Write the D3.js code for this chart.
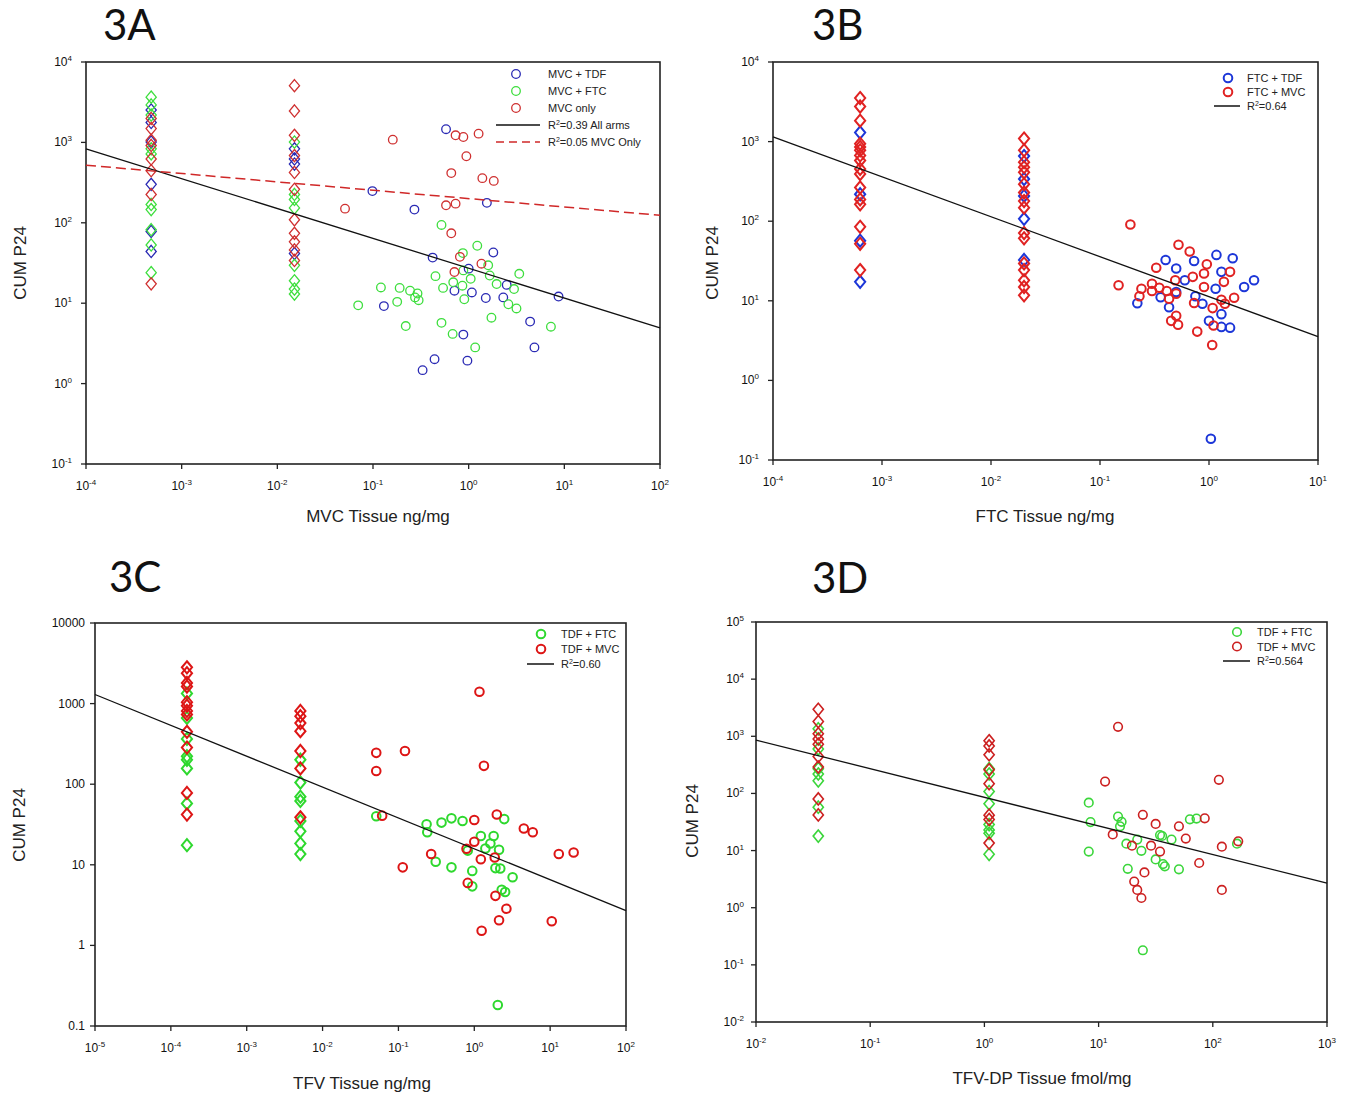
<!DOCTYPE html>
<html>
<head>
<meta charset="utf-8">
<script src="https://cdn.jsdelivr.net/npm/d3@7"></script>
<style>
  body { margin: 0; background: #fff; }
  svg { display: block; font-family: "Liberation Sans", Arial, sans-serif; }
</style>
</head>
<body>
<svg id="chart" width="1353" height="1098"></svg>
<script>
// ---- data: [tissue conc, CUM P24] ----
// 3A
const mvcTdfA = [
  [4.8e-4,2530],[4.8e-4,1770],[4.8e-4,1010],[4.8e-4,301],[4.8e-4,78],[4.8e-4,44],
  [0.0151,832],[0.0151,622],[0.0151,538],[0.0151,41.5],
  [0.58,1460],[0.0986,248],[0.271,146],[1.55,177],[0.42,36.9],[1.81,42.7],[1.0,26.9],
  [2.5,16.9],[0.71,14.3],[1.08,13.6],[1.51,11.6],[2.3,11.8],[8.7,12.1],[0.13,9.2],
  [4.39,5.9],[0.88,4.07],[4.87,2.82],[0.44,2.01],[0.97,1.93],[0.33,1.47]
];
const mvcFtcA = [
  [4.8e-4,3656],[4.8e-4,2925],[4.8e-4,2188],[4.8e-4,832],[4.8e-4,719],[4.8e-4,169],
  [4.8e-4,146],[4.8e-4,82],[4.8e-4,53],[4.8e-4,24],
  [0.0151,1010],[0.0151,225],[0.0151,195],[0.0151,153],[0.0151,29.6],[0.0151,19],
  [0.0151,15],[0.0151,13],
  [0.52,94],[1.23,51.8],[0.87,42],[1.6,29.6],[0.88,25.6],[0.45,21.7],[1.05,20.1],
  [3.38,23.2],[1.66,22.1],[1.96,17.3],[0.69,18.2],[0.86,16.5],[0.54,15.5],[0.121,15.7],
  [0.19,15.5],[0.244,14.3],[0.292,13.2],[0.275,11.8],[0.30,10.9],[0.179,10.4],[0.9,11.2],
  [2.98,15],[2.6,9.7],[3.16,8.6],[0.07,9.4],[0.52,5.7],[0.22,5.2],[1.73,6.6],[7.24,5.1],
  [0.68,4.15],[1.17,2.82]
];
const mvcOnlyA = [
  [4.8e-4,1985],[4.8e-4,1487],[4.8e-4,1060],[4.8e-4,916],[4.8e-4,622],[4.8e-4,444],
  [4.8e-4,225],[4.8e-4,17.4],
  [0.0151,5080],[0.0151,2460],[0.0151,1225],[0.0151,686],[0.0151,423],[0.0151,261],
  [0.0151,109],[0.0151,74],[0.0151,58],[0.0151,46],[0.0151,34],
  [0.161,1082],[0.73,1225],[0.88,1167],[1.27,1285],[0.946,673],[0.658,415],[1.39,359],
  [1.83,332],[0.58,165],[0.73,173],[0.051,150],[0.658,74],[0.81,37.7],[1.36,31],[0.71,24.4]
];
// 3B
const ftcTdfB = [
  [6.3e-4,1300],[6.3e-4,218],[6.3e-4,57],[6.3e-4,17.3],
  [0.0201,658],[0.0201,339],[0.0201,208],[0.0201,107],[0.0201,32.6],
  [0.40,32.6],[0.73,31.6],[1.17,37.7],[1.65,34.2],[0.5,25.5],[1.3,23.1],[2.59,18.1],
  [0.6,18.1],[2.1,14.9],[1.15,14.2],[0.5,12.9],[0.75,11.4],[0.36,11.1],[0.22,9.3],
  [0.87,9.2],[0.43,8.3],[1.3,6.8],[1.0,5.6],[1.3,4.7],[1.56,4.6],[1.04,0.185]
];
const ftcMvcB = [
  [6.3e-4,3524],[6.3e-4,2760],[6.3e-4,1833],[6.3e-4,943],[6.3e-4,856],[6.3e-4,777],
  [6.3e-4,670],[6.3e-4,579],[6.3e-4,454],[6.3e-4,392],[6.3e-4,265],[6.3e-4,188],
  [6.3e-4,163],[6.3e-4,85],[6.3e-4,52],[6.3e-4,24.3],
  [0.0201,1092],[0.0201,777],[0.0201,552],[0.0201,477],[0.0201,411],[0.0201,292],
  [0.0201,229],[0.0201,179],[0.0201,148],[0.0201,71],[0.0201,61],[0.0201,29.5],
  [0.0201,24.3],[0.0201,18.1],[0.0201,14.9],[0.0201,11.7],
  [0.19,91],[0.148,15.7],[0.525,50.5],[0.665,41.6],[0.955,28.7],[0.328,26],[1.56,23.1],
  [0.9,22],[0.71,20],[0.49,18.1],[1.37,17.3],[0.30,16.4],[0.24,14.2],[0.35,14.6],
  [0.30,13.3],[0.41,13.3],[0.9,14.9],[0.5,12.3],[0.23,11.4],[0.43,10.6],[1.7,10.9],
  [1.3,10.3],[0.73,9.4],[1.4,9.2],[1.08,8.1],[0.5,6.5],[0.45,5.6],[0.52,5.0],[1.1,4.9],
  [0.78,4.1],[1.07,2.79]
];
// 3C
const tdfFtcC = [
  [1.63e-4,1336],[1.63e-4,665],[1.63e-4,365],[1.63e-4,222],[1.63e-4,201],[1.63e-4,157],
  [1.63e-4,57.8],[1.63e-4,17.5],
  [5.1e-3,201],[5.1e-3,105],[5.1e-3,70],[5.1e-3,62],[5.1e-3,35],[5.1e-3,26],[5.1e-3,18.4],
  [5.1e-3,13.6],
  [0.051,40],[0.235,31.8],[0.37,33.4],[0.50,37.7],[0.7,35],[2.48,36.9],[0.24,25.3],
  [1.22,22.8],[1.8,22.8],[1.63,18.4],[2.12,15.4],[0.82,15],[1.4,15.9],[0.31,10.9],
  [0.50,9.3],[0.94,8.4],[1.9,9.1],[2.2,9.0],[3.2,7.0],[0.94,5.4],[2.3,4.9],[2.55,4.6],
  [2.04,0.182]
];
const tdfMvcC = [
  [1.63e-4,2818],[1.63e-4,2382],[1.63e-4,1800],[1.63e-4,1630],[1.63e-4,1040],[1.63e-4,942],
  [1.63e-4,811],[1.63e-4,735],[1.63e-4,446],[1.63e-4,285],[1.63e-4,78],[1.63e-4,42],
  [5.1e-3,811],[5.1e-3,698],[5.1e-3,573],[5.1e-3,455],[5.1e-3,258],[5.1e-3,157],[5.1e-3,38.8],
  [1.17,1403],[0.122,258],[0.051,245],[0.051,146],[1.34,169],[0.061,40.7],[1.98,42],
  [1.0,36],[4.5,28.2],[5.9,25.3],[1.0,19.3],[0.79,15.8],[13,13.6],[20.4,14.2],[0.27,13.6],
  [1.22,11.7],[1.86,12.3],[0.114,9.3],[0.82,5.96],[1.9,4.12],[2.65,2.85],[2.12,2.05],
  [1.25,1.52],[10.5,1.99]
];
// 3D
const tdfFtcD = [
  [0.0351,1350],[0.0351,600],[0.0351,271],[0.0351,219],[0.0351,166],[0.0351,57.5],[0.0351,17.9],
  [1.1,271],[1.1,219],[1.1,108],[1.1,66],[1.1,28.5],[1.1,23],[1.1,20],[1.1,8.6],
  [8.2,69],[8.5,31.5],[14.8,39.4],[15.9,31.9],[15.4,26.6],[34.5,18.7],[36,18],[43.5,15.6],
  [21.8,15.6],[17.5,13.2],[23.7,9.9],[31.6,7.0],[36.6,5.8],[38,5.3],[8.2,9.6],[18,4.8],
  [50.5,4.7],[63,35.2],[72,36.3],[163,13.2],[24.4,0.18]
];
const tdfMvcD = [
  [0.0351,2965],[0.0351,1811],[0.0351,1107],[0.0351,896],[0.0351,726],[0.0351,444],
  [0.0351,290],[0.0351,80],[0.0351,42],
  [1.1,836],[1.1,677],[1.1,475],[1.1,259],[1.1,148],[1.1,41.7],[1.1,35],[1.1,13.5],
  [14.8,1466],[11.4,161],[113,173],[24.4,42.3],[31.6,29.3],[50.5,26.6],[85,36.7],
  [13.3,19.2],[58,16.2],[19.6,12.2],[28.8,12.2],[34.5,9.6],[120,11.7],[167,14.5],
  [76,6.06],[25.2,4.14],[20.5,2.87],[21.8,2.05],[23.7,1.48],[120,2.05]
];
// below-LOQ columns (drawn as diamonds in the original)
const stackA = [4.8e-4, 0.0151];
const stackB = [6.3e-4, 0.0201];
const stackC = [1.63e-4, 5.1e-3];
const stackD = [0.0351, 1.1];
// regression lines: log10(y) = b + m * log10(x)
const fitA = { m: -0.371, b: 1.435 };
const fitAonly = { m: -0.104, b: 2.301 };
const fitB = { m: -0.502, b: 1.052 };
const fitC = { m: -0.383, b: 1.198 };
const fitD = { m: -0.501, b: 1.932 };

const svg = d3.select("#chart");
svg.append("rect").attr("width", 1353).attr("height", 1098).attr("fill", "#fff");

function powLabel(sel, e) {
  sel.text("10");
  sel.append("tspan").attr("dy", -5).attr("font-size", 8).text(String(e));
}

function drawPanel(p) {
  const g = svg.append("g");
  const x = d3.scaleLog().domain(p.xd).range([p.l, p.r]);
  const y = d3.scaleLog().domain(p.yd).range([p.b, p.t]);

  g.append("rect").attr("x", p.l).attr("y", p.t)
    .attr("width", p.r - p.l).attr("height", p.b - p.t)
    .attr("fill", "none").attr("stroke", "#222").attr("stroke-width", 1.6);

  const xe = d3.range(Math.log10(p.xd[0]), Math.log10(p.xd[1]) + 1);
  xe.forEach(e => {
    const xx = x(Math.pow(10, e));
    g.append("line").attr("x1", xx).attr("x2", xx).attr("y1", p.b).attr("y2", p.b + 5)
      .attr("stroke", "#222").attr("stroke-width", 1.3);
    const t = g.append("text").attr("x", xx).attr("y", p.b + 26)
      .attr("text-anchor", "middle").attr("font-size", 12).attr("fill", "#111");
    powLabel(t, e);
  });
  const ye = d3.range(Math.log10(p.yd[0]), Math.log10(p.yd[1]) + 1);
  ye.forEach(e => {
    const yy = y(Math.pow(10, e));
    g.append("line").attr("x1", p.l - 5).attr("x2", p.l).attr("y1", yy).attr("y2", yy)
      .attr("stroke", "#222").attr("stroke-width", 1.3);
    const t = g.append("text").attr("x", p.l - p.yGap).attr("y", yy + 4)
      .attr("text-anchor", "end").attr("font-size", 12).attr("fill", "#111");
    if (p.plainY) t.text(d3.format("~g")(Math.pow(10, e)));
    else powLabel(t, e);
  });

  const isStack = d => p.stack.includes(d[0]);
  const diamond = (cx, cy) => {
    const w = p.rad + 0.8, h = p.rad + 1.8;
    return `M${cx},${cy - h}L${cx + w},${cy}L${cx},${cy + h}L${cx - w},${cy}Z`;
  };

  p.series.forEach(s => {
    const sg = g.append("g");
    sg.selectAll("circle").data(s.data.filter(d => !isStack(d))).join("circle")
      .attr("cx", d => x(d[0])).attr("cy", d => y(d[1]))
      .attr("r", p.rad).attr("fill", "none")
      .attr("stroke", s.color).attr("stroke-width", p.sw);
    sg.selectAll("path").data(s.data.filter(isStack)).join("path")
      .attr("d", d => diamond(x(d[0]), y(d[1])))
      .attr("fill", "none").attr("stroke", s.color).attr("stroke-width", p.sw);
  });

  p.fits.forEach(f => {
    const ends = p.xd.map(v => [v, Math.pow(10, f.b + f.m * Math.log10(v))]);
    g.append("line")
      .attr("x1", x(ends[0][0])).attr("y1", y(ends[0][1]))
      .attr("x2", x(ends[1][0])).attr("y2", y(ends[1][1]))
      .attr("stroke", f.color).attr("stroke-width", f.w || 1.3)
      .attr("stroke-dasharray", f.dash || null);
  });

  p.legend.forEach((it, i) => {
    const ly = p.leg.y + i * p.leg.dy;
    if (it.line) {
      g.append("line").attr("x1", p.leg.lx1).attr("x2", p.leg.lx2).attr("y1", ly).attr("y2", ly)
        .attr("stroke", it.color).attr("stroke-width", 1.5)
        .attr("stroke-dasharray", it.dash || null);
    } else {
      g.append("circle").attr("cx", p.leg.mx).attr("cy", ly).attr("r", p.rad)
        .attr("fill", "none").attr("stroke", it.color).attr("stroke-width", p.sw);
    }
    const t = g.append("text").attr("x", p.leg.tx).attr("y", ly + 4)
      .attr("font-size", 11).attr("fill", "#222");
    if (it.r2) {
      t.text("R");
      t.append("tspan").attr("dy", -4).attr("font-size", 7).text("2");
      t.append("tspan").attr("dy", 4).text(it.label);
    } else t.text(it.label);
  });

  svg.append("text").attr("x", p.title[0]).attr("y", p.title[1])
    .attr("font-family", "Lato, 'Open Sans', sans-serif").attr("font-size", 42)
    .attr("fill", "#111").text(p.name);
  svg.append("text").attr("x", p.xl[0]).attr("y", p.xl[1]).attr("text-anchor", "middle")
    .attr("font-size", 17).attr("fill", "#222").text(p.xlabel);
  svg.append("text").attr("transform", `translate(${p.yl[0]},${p.yl[1]}) rotate(-90)`)
    .attr("text-anchor", "middle").attr("font-size", 17).attr("fill", "#222").text("CUM P24");
}

const blue = "#2a2ab4", green = "#3ede3e";

drawPanel({
  name: "3A", title: [103, 40], xlabel: "MVC  Tissue ng/mg", xl: [378, 522], yl: [26, 263],
  l: 86, r: 660, t: 62, b: 464, xd: [1e-4, 1e2], yd: [1e-1, 1e4], yGap: 14,
  rad: 4.3, sw: 1.3, stack: stackA,
  series: [{ data: mvcTdfA, color: blue }, { data: mvcFtcA, color: green }, { data: mvcOnlyA, color: "#cf3030" }],
  fits: [{ ...fitA, color: "#111" }, { ...fitAonly, color: "#d02828", dash: "10,5", w: 1.5 }],
  legend: [
    { label: "MVC + TDF", color: blue }, { label: "MVC + FTC", color: green },
    { label: "MVC only", color: "#cf3030" },
    { line: true, r2: true, label: "=0.39 All arms", color: "#111" },
    { line: true, r2: true, label: "=0.05 MVC Only", color: "#d02828", dash: "8,5" }
  ],
  leg: { y: 74, dy: 17, mx: 516, tx: 548, lx1: 496, lx2: 540 }
});

drawPanel({
  name: "3B", title: [812, 40], xlabel: "FTC Tissue ng/mg", xl: [1045, 522], yl: [718, 263],
  l: 773, r: 1318, t: 62, b: 460, xd: [1e-4, 1e1], yd: [1e-1, 1e4], yGap: 14,
  rad: 4.3, sw: 2, stack: stackB,
  series: [{ data: ftcTdfB, color: "#1c36d8" }, { data: ftcMvcB, color: "#e02222" }],
  fits: [{ ...fitB, color: "#111" }],
  legend: [
    { label: "FTC + TDF", color: "#1c36d8" }, { label: "FTC + MVC", color: "#e02222" },
    { line: true, r2: true, label: "=0.64", color: "#111" }
  ],
  leg: { y: 78, dy: 14, mx: 1228, tx: 1247, lx1: 1214, lx2: 1240 }
});

drawPanel({
  name: "3C", title: [109, 592], xlabel: "TFV Tissue ng/mg", xl: [362, 1089], yl: [25, 825],
  l: 95, r: 626, t: 623, b: 1026, xd: [1e-5, 1e2], yd: [1e-1, 1e4], yGap: 10, plainY: true,
  rad: 4.3, sw: 2, stack: stackC,
  series: [{ data: tdfFtcC, color: "#2ed82e" }, { data: tdfMvcC, color: "#dd1515" }],
  fits: [{ ...fitC, color: "#111" }],
  legend: [
    { label: "TDF + FTC", color: "#2ed82e" }, { label: "TDF + MVC", color: "#dd1515" },
    { line: true, r2: true, label: "=0.60", color: "#111" }
  ],
  leg: { y: 634, dy: 15, mx: 541, tx: 561, lx1: 527, lx2: 554 }
});

drawPanel({
  name: "3D", title: [812, 593], xlabel: "TFV-DP Tissue fmol/mg", xl: [1042, 1084], yl: [698, 821],
  l: 756, r: 1327, t: 622, b: 1022, xd: [1e-2, 1e3], yd: [1e-2, 1e5], yGap: 12,
  rad: 4.3, sw: 1.6, stack: stackD,
  series: [{ data: tdfFtcD, color: "#3bd63b" }, { data: tdfMvcD, color: "#cc2020" }],
  fits: [{ ...fitD, color: "#111" }],
  legend: [
    { label: "TDF + FTC", color: "#3bd63b" }, { label: "TDF + MVC", color: "#cc2020" },
    { line: true, r2: true, label: "=0.564", color: "#111" }
  ],
  leg: { y: 632, dy: 14.5, mx: 1237, tx: 1257, lx1: 1223, lx2: 1250 }
});
</script>
</body>
</html>
